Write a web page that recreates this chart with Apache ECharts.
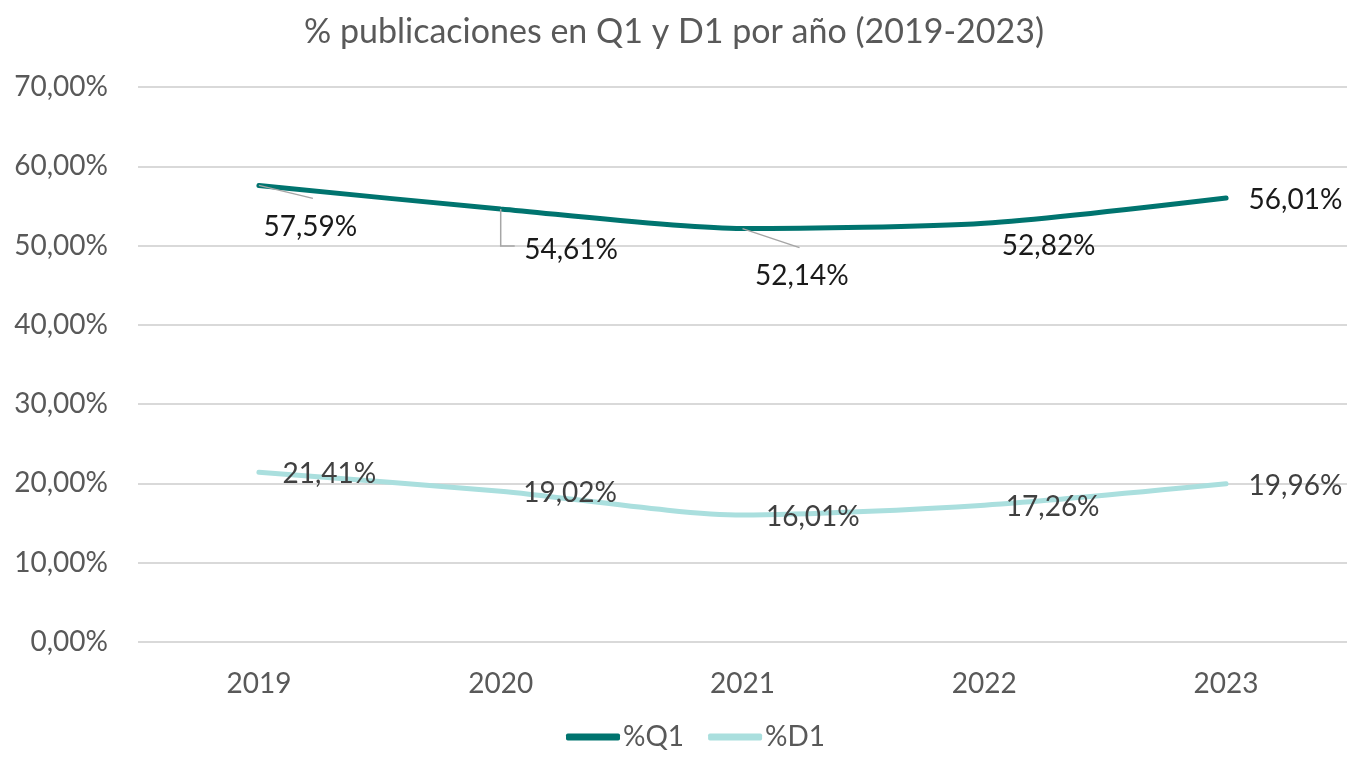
<!DOCTYPE html>
<html>
<head>
<meta charset="utf-8">
<script src="https://cdn.jsdelivr.net/npm/echarts@6/dist/echarts.min.js"></script>
<style>
  html, body { margin: 0; padding: 0; background: #fff; }
  #chart { width: 1348px; height: 758px; }
</style>
</head>
<body>
<div id="chart"></div>
<script>
// Years on the category axis
const years = ['2019', '2020', '2021', '2022', '2023'];
// Share of publications in the first quartile and first decile (%)
const q1Values = [57.59, 54.61, 52.14, 52.82, 56.01];
const d1Values = [21.41, 19.02, 16.01, 17.26, 19.96];
// Value axis tick values (%)
const yTicks = [0, 10, 20, 30, 40, 50, 60, 70];

// Label shifts relative to each point (pixels)
const q1Shift = [[4, 42], [23, 41], [12, 47], [17, 23], [22, 2]];
const d1Shift = [[23, 2], [22, 2], [23, 2], [21, 2], [22, 2]];
// Leader line bends, as pixel steps from the point (null = no leader)
const q1Leaders = [
  [[54, 13]],
  [[0, 37], [14, 37]],
  [[57, 19]],
  null,
  null
];

const fontFamily = 'Lato, "Open Sans", sans-serif';
const fmt = v => v.toFixed(2).replace('.', ',') + '%';

const chart = echarts.init(document.getElementById('chart'), null, { renderer: 'canvas' });

chart.setOption({
  animation: false,
  title: {
    text: '% publicaciones en Q1 y D1 por año (2019-2023)',
    left: 'center',
    top: 10,
    textStyle: { fontFamily, fontSize: 34, fontWeight: 'normal', color: '#595959' }
  },
  legend: {
    bottom: 2,
    left: 561,
    itemWidth: 54,
    itemHeight: 7,
    itemGap: 24,
    textStyle: { fontFamily, fontSize: 28, color: '#595959', padding: [0, 0, 0, -2] },
    data: [
      { name: '%Q1', icon: 'roundRect' },
      { name: '%D1', icon: 'roundRect' }
    ]
  },
  grid: { left: 138, right: 1, top: 87, bottom: 116, containLabel: false },
  xAxis: {
    type: 'category',
    data: years,
    boundaryGap: true,
    axisLine: { show: false },
    axisTick: { show: false },
    axisLabel: { fontFamily, fontSize: 28, color: '#595959', margin: 28 }
  },
  yAxis: {
    type: 'value',
    min: yTicks[0],
    max: yTicks[yTicks.length - 1],
    interval: 10,
    axisLine: { show: false },
    axisTick: { show: false },
    splitLine: { lineStyle: { color: '#d9d9d9', width: 2 } },
    axisLabel: {
      fontFamily, fontSize: 28, color: '#595959', margin: 30,
      formatter: v => v.toFixed(2).replace('.', ',') + '%'
    }
  },
  series: [
    {
      name: '%Q1',
      type: 'line',
      data: q1Values,
      smooth: 0.25,
      symbol: 'circle',
      symbolSize: 1,
      itemStyle: { color: '#00746f' },
      lineStyle: { color: '#00746f', width: 5, cap: 'round' },
      label: {
        show: true,
        position: 'right',
        distance: 0,
        fontFamily, fontSize: 28, color: '#1a1a1a',
        formatter: p => fmt(p.value)
      },
      labelLayout: p => ({ dx: q1Shift[p.dataIndex][0], dy: q1Shift[p.dataIndex][1] }),
      z: 3
    },
    {
      name: '%D1',
      type: 'line',
      data: d1Values,
      smooth: 0.25,
      symbol: 'circle',
      symbolSize: 1,
      itemStyle: { color: '#aadfde' },
      lineStyle: { color: '#aadfde', width: 5, cap: 'round' },
      label: {
        show: true,
        position: 'right',
        distance: 0,
        fontFamily, fontSize: 28, color: '#404040',
        formatter: p => fmt(p.value)
      },
      labelLayout: p => ({ dx: d1Shift[p.dataIndex][0], dy: d1Shift[p.dataIndex][1] }),
      z: 2
    }
  ]
});

// Leader lines for the moved %Q1 labels, anchored on the points via the chart's scales
const leaderGraphics = [];
q1Values.forEach((v, i) => {
  const steps = q1Leaders[i];
  if (!steps) return;
  const origin = chart.convertToPixel({ seriesIndex: 0 }, [i, v]);
  const points = [origin].concat(steps.map(s => [origin[0] + s[0], origin[1] + s[1]]));
  leaderGraphics.push({
    type: 'polyline',
    shape: { points },
    style: { stroke: '#a6a6a6', lineWidth: 1.5, fill: null },
    z: 10
  });
});
chart.setOption({ graphic: leaderGraphics });
</script>
</body>
</html>
